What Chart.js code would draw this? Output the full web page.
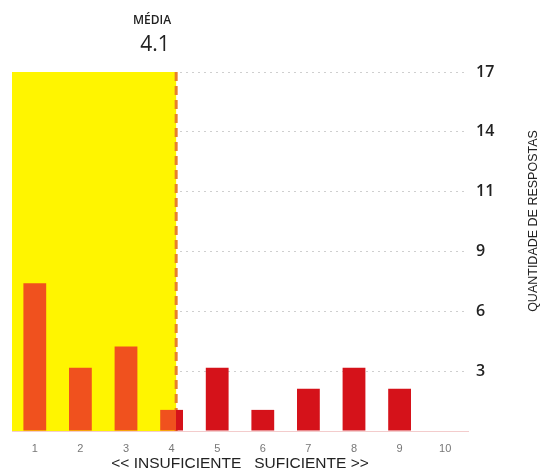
<!DOCTYPE html>
<html>
<head>
<meta charset="utf-8">
<script src="https://cdn.jsdelivr.net/npm/chart.js@4"></script>
<style>
  html, body { margin: 0; padding: 0; background: #fff; }
  #wrap { width: 540px; height: 471px; position: relative; }
</style>
</head>
<body>
<div id="wrap"><canvas id="chart"></canvas></div>
<script>
// Data
const notas = ['1', '2', '3', '4', '5', '6', '7', '8', '9', '10'];
const respostas = [7, 3, 4, 1, 3, 1, 2, 3, 2, 0];
const yTickLabels = ['3', '6', '9', '11', '14', '17'];
const yMax = 17;
const media = 4.1;

const AMARELO = '#fff500';
const LARANJA = '#f0511e';
const VERMELHO = '#d5121a';
const TRACO = '#e8802a';

// split colour: orange left of the mean line, red right of it
function barColor(context) {
    const chart = context.chart;
    const area = chart.chartArea;
    if (!area) return VERMELHO;
    const xm = chart.scales.x.getPixelForValue(media - 1);
    const g = chart.ctx.createLinearGradient(area.left, 0, area.right, 0);
    const t = (xm - area.left) / (area.right - area.left);
    g.addColorStop(0, LARANJA);
    g.addColorStop(t, LARANJA);
    g.addColorStop(t, VERMELHO);
    g.addColorStop(1, VERMELHO);
    return g;
}

const mediaPlugin = {
    id: 'mediaPlugin',
    beforeDatasetsDraw(chart) {
        const ctx = chart.ctx;
        const area = chart.chartArea;
        const xm = chart.scales.x.getPixelForValue(media - 1);
        const yTop = chart.scales.y.getPixelForValue(yMax);
        ctx.save();
        ctx.fillStyle = AMARELO;
        ctx.fillRect(area.left, yTop, xm - area.left, area.bottom - yTop);
        ctx.strokeStyle = TRACO;
        ctx.lineWidth = 3;
        ctx.setLineDash([9, 5]);
        ctx.beginPath();
        ctx.moveTo(xm, yTop);
        ctx.lineTo(xm, area.bottom);
        ctx.stroke();
        ctx.restore();
    },
    afterDraw(chart) {
        const ctx = chart.ctx;
        ctx.save();
        ctx.fillStyle = '#222';
        ctx.textAlign = 'center';
        ctx.textBaseline = 'middle';
        ctx.font = '600 12px "Open Sans"';
        ctx.fillText('MÉDIA', 152, 21);
        ctx.font = '21px "Open Sans"';
        ctx.fillText(String(media), 155, 45);

        ctx.font = '15.5px "Liberation Sans"';
        ctx.fillText('<< INSUFICIENTE   SUFICIENTE >>', 240, 464);

        ctx.translate(534, 221);
        ctx.rotate(-Math.PI / 2);
        ctx.font = '12.5px "Liberation Sans"';
        ctx.fillText('QUANTIDADE DE RESPOSTAS', 0, 0);
        ctx.restore();
    }
};

new Chart(document.getElementById('chart'), {
    type: 'bar',
    data: {
        labels: notas,
        datasets: [{
            data: respostas,
            backgroundColor: barColor,
            barPercentage: 0.5,
            categoryPercentage: 1.0
        }]
    },
    options: {
        responsive: true,
        maintainAspectRatio: false,
        animation: false,
        layout: { padding: { top: 72, left: 12, right: 0, bottom: 0 } },
        plugins: {
            legend: { display: false },
            tooltip: { enabled: false }
        },
        scales: {
            x: {
                grid: { display: false },
                border: { display: true, color: '#f3cccc', width: 1 },
                ticks: {
                    color: '#777',
                    font: { family: 'Liberation Sans', size: 11 },
                    padding: 3
                },
                afterFit(scale) { scale.height = 40; }
            },
            y: {
                position: 'right',
                min: 0,
                max: yMax,
                grid: {
                    drawTicks: false,
                    color: (c) => c.index === 0 ? 'rgba(0,0,0,0)' : '#cfcfcf',
                    lineWidth: 1
                },
                border: { display: false, dash: [2, 4] },
                ticks: {
                    stepSize: yMax / 6,
                    color: '#222',
                    padding: 8,
                    font: { family: 'Open Sans', size: 16, weight: '600' },
                    callback: (v, i) => i === 0 ? '' : yTickLabels[i - 1]
                },
                afterFit(scale) { scale.width = 72; }
            }
        }
    },
    plugins: [mediaPlugin]
});
</script>
</body>
</html>
